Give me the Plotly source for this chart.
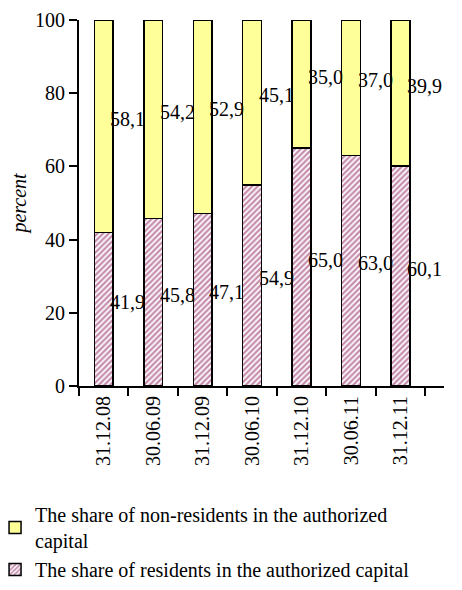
import plotly.graph_objects as go

dates = ['31.12.08', '30.06.09', '31.12.09', '30.06.10', '31.12.10', '30.06.11', '31.12.11']
residents = [41.9, 45.8, 47.1, 54.9, 65.0, 63.0, 60.1]
non_residents = [58.1, 54.2, 52.9, 45.1, 35.0, 37.0, 39.9]

FONT = 'Liberation Serif, Times New Roman, serif'
tfont = dict(family=FONT, size=20, color='black')

fig = go.Figure()
fig.add_trace(go.Bar(
    x=dates, y=residents,
    name='The share of residents in the authorized capital',
    marker=dict(color='white', line=dict(color='black', width=1.5),
                pattern=dict(shape='/', fgcolor='#8b1a5a', bgcolor='white', size=4, solidity=0.55)),
))
fig.add_trace(go.Bar(
    x=dates, y=non_residents,
    name='The share of non-residents in the authorized<br>capital',
    marker=dict(color='#FFFF99', line=dict(color='black', width=1.5)),
))

# value labels, to the right of each bar at the segment middle
for d, r, n in zip(dates, residents, non_residents):
    fig.add_annotation(x=d, y=r / 2 + 2, text='{:.1f}'.format(r).replace('.', ','),
                       showarrow=False, xshift=24, font=tfont)
    fig.add_annotation(x=d, y=r + n / 2 + 2, text='{:.1f}'.format(n).replace('.', ','),
                       showarrow=False, xshift=24, font=tfont)

# page body has an 8px margin, so the figure is drawn 8px smaller
fig.update_layout(
    barmode='stack', bargap=0.62,
    width=454, height=582, autosize=False,
    margin=dict(l=71, r=18, t=12, b=204, autoexpand=False),
    plot_bgcolor='white', paper_bgcolor='white',
    font=tfont,
    showlegend=True,
    legend=dict(x=-0.23, y=-0.298, xanchor='left', yanchor='top', traceorder='reversed',
                font=tfont, itemwidth=30, tracegroupgap=2),
)
fig.update_yaxes(range=[0, 100], dtick=20, showline=True, linecolor='black', linewidth=2,
                 ticks='outside', ticklen=8, tickwidth=2, tickcolor='black', showgrid=False,
                 zeroline=False, automargin=False, tickfont=tfont,
                 title=dict(text='<i>percent</i>', font=tfont, standoff=6))
fig.update_xaxes(showline=True, linecolor='black', linewidth=2, ticks='outside', ticklen=8,
                 tickwidth=2, tickcolor='black', tickson='boundaries', tickangle=-90,
                 showgrid=False, automargin=False, tickfont=tfont)

fig.write_html('out.html')
